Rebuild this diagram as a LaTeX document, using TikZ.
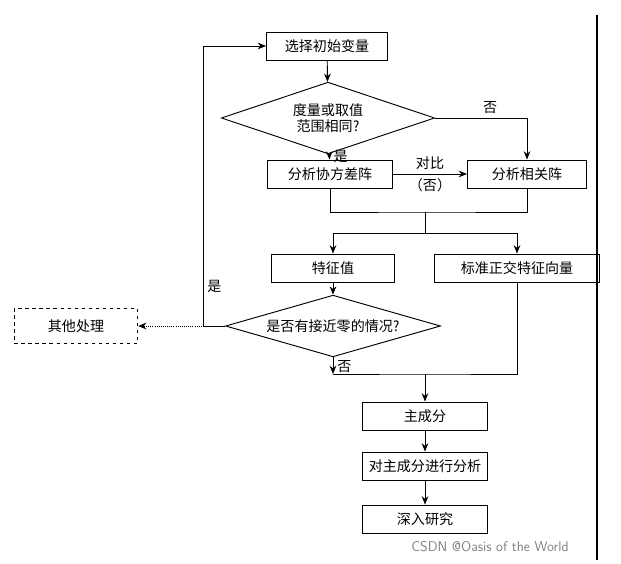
\documentclass[tikz,border=0pt]{standalone}
\usepackage{fontspec}
\setmainfont{Noto Sans CJK SC}
\usetikzlibrary{arrows.meta,positioning,shapes.geometric}
\tikzset{
    procbox/.style={draw, thick, minimum height=0.84cm, inner sep=1pt, font=\large},
    decide/.style={draw, thick, diamond, aspect=3, inner sep=0pt, font=\large, align=center},
    flow/.style={thick, -{Stealth[length=2.5mm, width=2mm]}},
    plainline/.style={thick}
}
\begin{document}
\begin{tikzpicture}[x=0.03cm, y=-0.03cm]
  \useasboundingbox (0,0) rectangle (621,563);
  % boxes
  \node[procbox, minimum width=3.63cm] (start) at (327,46) {选择初始变量};
  \node[decide, minimum width=6.4cm, minimum height=2.15cm] (same) at (328,118) {度量或取值\\范围相同?};
  \node[procbox, minimum width=3.75cm] (cov) at (330,174) {分析协方差阵};
  \node[procbox, minimum width=3.57cm] (corr) at (527,174) {分析相关阵};
  \node[procbox, minimum width=3.69cm] (eig) at (333,268) {特征值};
  \node[procbox, minimum width=4.95cm] (vec) at (517,268) {标准正交特征向量};
  \node[decide, minimum width=6.45cm, minimum height=1.85cm] (zero) at (333,326) {是否有接近零的情况?};
  \node[procbox, dashed, minimum width=3.7cm, minimum height=1.05cm] (other) at (76,326) {其他处理};
  \node[procbox, minimum width=3.75cm] (pc) at (425,416) {主成分};
  \node[procbox, minimum width=3.75cm] (ana) at (425,466) {对主成分进行分析};
  \node[procbox, minimum width=3.75cm] (deep) at (425,519) {深入研究};
  % joints
  \coordinate (m1) at (425,212);
  \coordinate (m2) at (425,233);
  \coordinate (m3) at (425,374);
  % connectors
  \draw[flow] (start) -- (same);
  \draw[flow] (same) -- node[right, pos=0.4, font=\large] {是} (cov);
  \draw[flow] (same.east) -| node[above, pos=0.3, font=\large] {否} (corr);
  \draw[flow] (cov) -- node[above, font=\large] {对比} node[below, font=\large] {（否）} (corr);
  \draw[plainline] (cov.south) |- (m1) -| (corr.south);
  \draw[plainline] (m1) -- (m2);
  \draw[flow] (m2) -| (eig.north);
  \draw[flow] (m2) -| (vec.north);
  \draw[flow] (eig) -- (zero);
  \draw[flow, densely dotted] (zero.west) -- (other.east);
  \draw[flow] (zero.west) -| node[right, pos=0.57, font=\large] {是} (203,46) -- (start.west);
  \draw[flow] (zero.south) -- node[right, pos=0.55, font=\large] {否} (zero.south |- m3);
  \draw[plainline] (zero.south |- m3) -- (m3) -| (vec.south);
  \draw[flow] (m3) -- (pc);
  \draw[flow] (pc) -- (ana);
  \draw[flow] (ana) -- (deep);
  % right edge line and watermark
  \draw[line width=1.5pt] (597,15) -- (597,560);
  \node[font=\sffamily\large, text=gray] (mark) at (490,547) {CSDN @Oasis of the World};
\end{tikzpicture}
\end{document}
